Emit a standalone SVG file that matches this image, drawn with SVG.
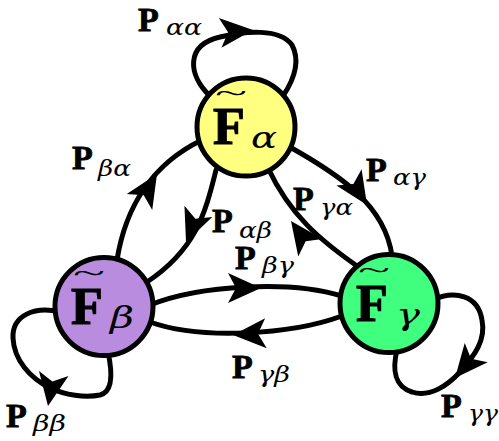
<svg xmlns="http://www.w3.org/2000/svg" width="499" height="441" viewBox="0 0 499 441">
<style>
.edge{fill:none;stroke:#000;stroke-width:5;stroke-linecap:round}
.node{stroke:#000;stroke-width:5}
.F{font-family:"Liberation Serif",serif;font-weight:bold;font-size:52px;fill:#000;stroke:#000;stroke-width:1.2}
.til{font-family:"Liberation Serif",serif;font-size:28px;fill:#000}
.ns{font-family:"DejaVu Serif",serif;font-style:italic;font-size:30px;fill:#000}
.P{font-family:"Liberation Serif",serif;font-weight:bold;font-size:34px;fill:#000;stroke:#000;stroke-width:0.8}
.ps{font-family:"DejaVu Serif",serif;font-style:italic;font-size:22px;fill:#000}
</style>
<defs>
<path id="ah" d="M0,0 L-33,-15 L-25,0 L-33,15 Z" fill="#000"/>
</defs>
<g id="connectors">
<path class="edge" d="M 210,96 C 188,75 185,45 220,37 C 245,31 280,28 292,45 C 300,60 295,78 283,96"/>
<use href="#ah" transform="translate(253,30) rotate(-5)"/>
<path class="edge" d="M 60,312 C 35,306 12,315 13,338 C 14,360 30,378 50,388 C 65,395 85,398 100,395 C 112,392 113,375 108,352"/>
<use href="#ah" transform="translate(48,406) rotate(100)"/>
<path class="edge" d="M 432,300 C 455,290 478,295 482,320 C 486,340 475,355 460,372 C 448,385 430,398 412,392 C 395,387 392,370 397,350"/>
<use href="#ah" transform="translate(455,378) rotate(130)"/>
<path class="edge" d="M 117,260 C 125,210 150,165 202,140"/>
<use href="#ah" transform="translate(157,174) rotate(-58)"/>
<path class="edge" d="M 216,170 C 205,215 195,250 147,282"/>
<use href="#ah" transform="translate(186,242) rotate(112)"/>
<path class="edge" d="M 288,146 C 340,175 385,205 392,256"/>
<use href="#ah" transform="translate(367,205) rotate(57)"/>
<path class="edge" d="M 357,266 C 320,240 290,215 268,168"/>
<use href="#ah" transform="translate(291,221) rotate(-126)"/>
<path class="edge" d="M 150,305 C 200,285 290,280 342,296"/>
<use href="#ah" transform="translate(261,288) rotate(0)"/>
<path class="edge" d="M 342,316 C 290,335 200,340 150,322"/>
<use href="#ah" transform="translate(233,335) rotate(177)"/>
</g>
<g id="alpha">
<circle class="node" cx="246" cy="127" r="49" fill="#ffff80"/>
<text class="til" x="215" y="102" textLength="32" lengthAdjust="spacingAndGlyphs">~</text>
<text class="F" x="213" y="144">F</text>
<text class="ns" x="251" y="148" textLength="26" lengthAdjust="spacingAndGlyphs">α</text>
</g>
<g id="beta">
<circle class="node" cx="104" cy="306.5" r="49" fill="#b98cdf"/>
<text class="til" x="73" y="281.5" textLength="32" lengthAdjust="spacingAndGlyphs">~</text>
<text class="F" x="71" y="323.5">F</text>
<text class="ns" x="110" y="327.5" textLength="24" lengthAdjust="spacingAndGlyphs">β</text>
</g>
<g id="gamma">
<circle class="node" cx="389" cy="303.5" r="49" fill="#40ff7f"/>
<text class="til" x="358" y="278.5" textLength="32" lengthAdjust="spacingAndGlyphs">~</text>
<text class="F" x="356" y="320.5">F</text>
<text class="ns" x="396" y="324.5" textLength="24" lengthAdjust="spacingAndGlyphs">γ</text>
</g>
<g id="labels">
<text class="P" x="138" y="31">P</text><text class="ps" x="166" y="35" textLength="36" lengthAdjust="spacingAndGlyphs">αα</text>
<text class="P" x="72" y="169">P</text><text class="ps" x="98" y="176" textLength="33" lengthAdjust="spacingAndGlyphs">βα</text>
<text class="P" x="212" y="232">P</text><text class="ps" x="239" y="238" textLength="33" lengthAdjust="spacingAndGlyphs">αβ</text>
<text class="P" x="366" y="181">P</text><text class="ps" x="393" y="185" textLength="33" lengthAdjust="spacingAndGlyphs">αγ</text>
<text class="P" x="293" y="210">P</text><text class="ps" x="320" y="215" textLength="33" lengthAdjust="spacingAndGlyphs">γα</text>
<text class="P" x="235" y="269">P</text><text class="ps" x="262" y="273" textLength="32" lengthAdjust="spacingAndGlyphs">βγ</text>
<text class="P" x="232" y="378">P</text><text class="ps" x="258" y="382" textLength="32" lengthAdjust="spacingAndGlyphs">γβ</text>
<text class="P" x="6" y="427">P</text><text class="ps" x="33" y="431" textLength="33" lengthAdjust="spacingAndGlyphs">ββ</text>
<text class="P" x="441" y="417">P</text><text class="ps" x="468" y="421" textLength="30" lengthAdjust="spacingAndGlyphs">γγ</text>
</g>
</svg>
